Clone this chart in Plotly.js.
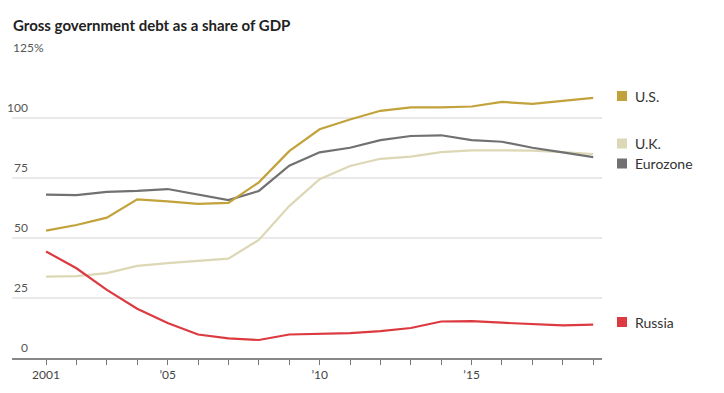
<!DOCTYPE html>
<html>
<head>
<meta charset="utf-8">
<script src="https://cdn.plot.ly/plotly-3.0.1.min.js"></script>
<style>html,body{margin:0;padding:0;background:#fff}#chart{width:724px;height:393px}</style>
</head>
<body>
<div id="chart"></div>
<script>
const years = [2001,2002,2003,2004,2005,2006,2007,2008,2009,2010,2011,2012,2013,2014,2015,2016,2017,2018,2019];
const us       = [53.1,55.4,58.5,66.1,65.3,64.2,64.6,73.2,86.2,95.3,99.4,103.0,104.4,104.4,104.8,106.7,105.9,107.0,108.4];
const eurozone = [68.1,67.9,69.2,69.6,70.4,68.2,65.8,69.6,80.1,85.7,87.6,90.8,92.5,92.8,90.8,90.1,87.6,85.7,83.7];
const uk       = [33.9,34.1,35.4,38.4,39.5,40.3,41.4,49.2,63.3,74.5,80.0,83.0,83.9,85.8,86.5,86.5,86.4,85.8,85.0];
const russia   = [44.4,37.4,28.4,20.5,14.6,9.8,8.2,7.5,9.8,10.0,10.4,11.2,12.5,15.2,15.4,14.7,14.1,13.6,13.9];

const seriesNames = ['U.S.','U.K.','Eurozone','Russia'];
const seriesColors = ['#c2a23a','#dcd7b5','#717171','#dc3a40'];
const seriesData = [us, uk, eurozone, russia];

const yTickVals = [0,25,50,75,100,125];
const yTickText = ['0','25','50','75','100','125%'];
const xTickLabels = {2001:'2001',2005:'\u201905',2010:'\u201910',2015:'\u201915'};

const W = 724, H = 393;
const mL = 12, mR = 122, mT = 58, mB = 35;
const plotW = W - mL - mR;
const px = p => (p - mL) / plotW;

const traces = [];
[1,2,0,3].forEach(i => {
  traces.push({
    x: years, y: seriesData[i], type: 'scatter', mode: 'lines', name: seriesNames[i],
    line: {color: seriesColors[i], width: 2.2, shape: 'linear'},
    hoverinfo: 'skip', cliponaxis: false
  });
});

const annotations = [];
const shapes = [];
yTickVals.forEach((v, k) => {
  const last = k === yTickVals.length - 1;
  annotations.push({
    xref: 'paper', yref: 'y', x: last ? px(11) : px(30), y: v,
    xanchor: last ? 'left' : 'right', yanchor: 'bottom',
    text: yTickText[k], showarrow: false, yshift: 1,
    font: {family: 'Lato, sans-serif', size: 12, color: '#555'}
  });
});

const legendY = [96, 143.5, 163.5, 322];
const toY = p => (358 - p) / 2.4;
seriesNames.forEach((n, i) => {
  const yv = toY(legendY[i]);
  shapes.push({
    type: 'rect', xref: 'paper', yref: 'y', xsizemode: 'pixel', ysizemode: 'pixel',
    xanchor: px(617), yanchor: yv, x0: 0, x1: 10, y0: -5, y1: 5,
    fillcolor: seriesColors[i], line: {width: 0}
  });
  annotations.push({
    xref: 'paper', yref: 'y', x: px(633), y: yv, xanchor: 'left', yanchor: 'middle',
    text: n, showarrow: false,
    font: {family: 'Lato, sans-serif', size: 14, color: '#333'}
  });
});

annotations.push({
  xref: 'paper', yref: 'paper', x: px(11), y: 1 + (mT - 25) / (H - mT - mB),
  xanchor: 'left', yanchor: 'middle', showarrow: false,
  text: '<b>Gross government debt as a share of GDP</b>',
  font: {family: 'Lato, sans-serif', size: 15, color: '#222'}
});

const layout = {
  width: W, height: H,
  margin: {l: mL, r: mR, t: mT, b: mB, pad: 0},
  paper_bgcolor: '#fff', plot_bgcolor: '#fff',
  showlegend: false,
  xaxis: {
    range: [1999.88, 2019.29], tickvals: years,
    ticktext: years.map(y => xTickLabels[y] || ''),
    ticks: 'outside', ticklen: 5, tickwidth: 1, tickcolor: '#777',
    showline: true, linecolor: '#888', linewidth: 2,
    showgrid: false, zeroline: false, fixedrange: true,
    tickfont: {family: 'Lato, sans-serif', size: 12, color: '#444'}
  },
  yaxis: {
    range: [0, 125], tickvals: yTickVals, showticklabels: false,
    showgrid: true, gridcolor: '#e9e9e9', gridwidth: 1.5,
    zeroline: false, showline: false, ticks: '', fixedrange: true
  },
  annotations: annotations,
  shapes: shapes
};

Plotly.newPlot('chart', traces, layout, {displayModeBar: false, staticPlot: true});
</script>
</body>
</html>
